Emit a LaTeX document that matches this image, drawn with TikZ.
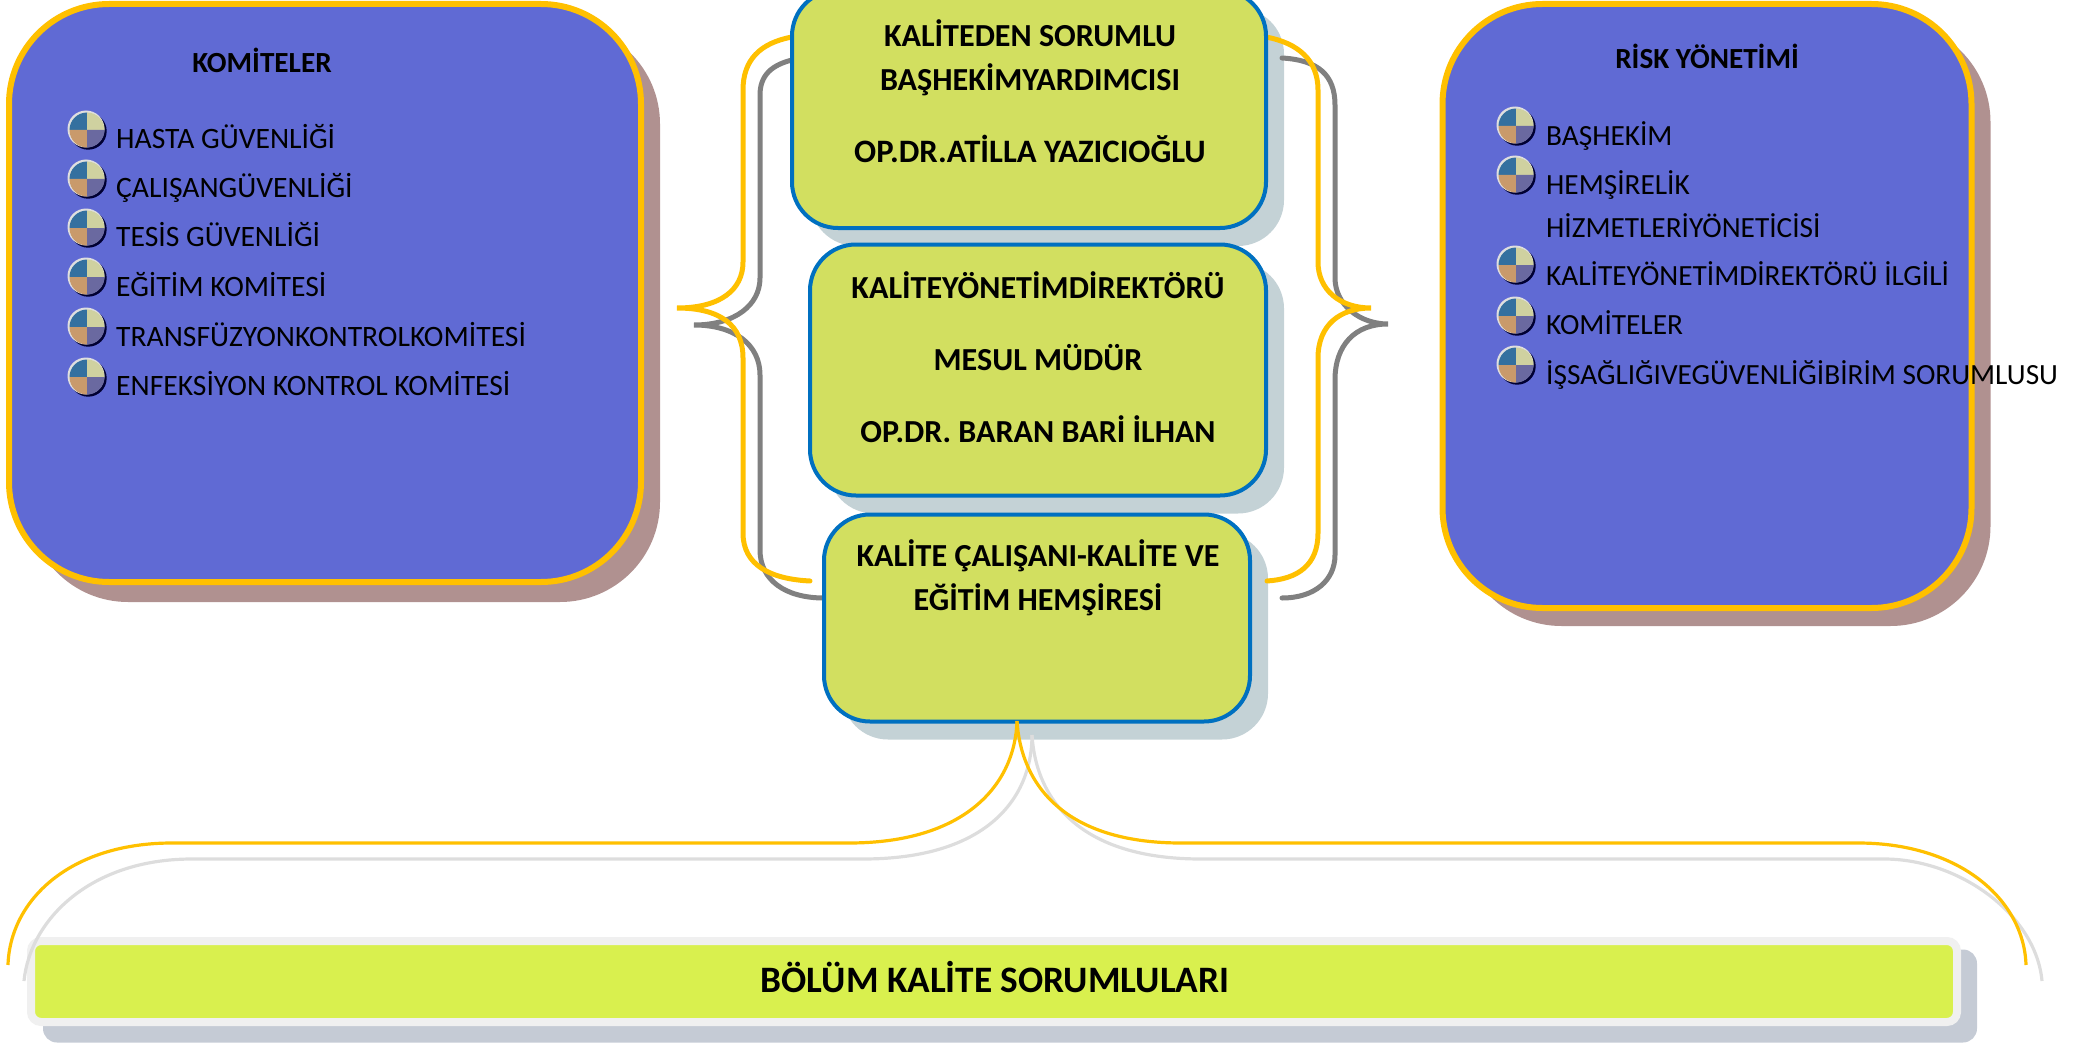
\documentclass[tikz,border=0pt]{standalone}
\usepackage{fontspec}
\setmainfont{Carlito}
\definecolor{panelblue}{HTML}{606AD4}
\definecolor{gold}{HTML}{FFC000}
\definecolor{panelshade}{HTML}{B09190}
\definecolor{leaf}{HTML}{D2DF60}
\definecolor{edgeblue}{HTML}{0070C0}
\definecolor{leafshade}{HTML}{C4D2D6}
\definecolor{barfill}{HTML}{D9F04E}
\definecolor{barrim}{HTML}{F0F0F0}
\definecolor{barshade}{HTML}{C5CBD5}
\definecolor{bracegray}{HTML}{808080}
\definecolor{lightgray2}{HTML}{DDDDDD}
\definecolor{HB1}{HTML}{34709F}
\definecolor{HB2}{HTML}{CFD1A0}
\definecolor{HB3}{HTML}{C99A6B}
\definecolor{HB4}{HTML}{6A69A0}
\tikzset{
  x=1pt,y=-1pt,
  panel/.style={draw=gold,line width=6pt,fill=panelblue,rounded corners=100pt,inner sep=0pt},
  panelback/.style={fill=panelshade,rounded corners=100pt,inner sep=0pt},
  leafbox/.style={draw=edgeblue,line width=4pt,fill=leaf,rounded corners=46pt,inner sep=0pt},
  leafback/.style={fill=leafshade,rounded corners=46pt,inner sep=0pt},
  barbox/.style={draw=barrim,line width=8pt,fill=barfill,rounded corners=10pt,inner sep=0pt},
  barback/.style={fill=barshade,rounded corners=14pt,inner sep=0pt},
  item/.style={anchor=base west,inner sep=0pt,font=\fontsize{29.6}{29.6}\selectfont},
  ritem/.style={anchor=base west,inner sep=0pt,font=\fontsize{29.3}{29.3}\selectfont},
  heading/.style={anchor=base,inner sep=0pt,font=\fontsize{29.2}{29.2}\selectfont\bfseries},
  leaftext/.style={anchor=base,inner sep=0pt,font=\fontsize{32.1}{32.1}\selectfont\bfseries},
  brace gold/.style={draw=gold,line width=5pt,line cap=round},
  brace gray/.style={draw=bracegray,line width=5pt,line cap=round},
  thin gold/.style={draw=gold,line width=3.2pt},
  thin gray/.style={draw=lightgray2,line width=3.2pt},
  qbullet/.pic={
    \fill[black!80!blue] (1.2,1.2) circle[radius=18.5];
    \fill[white!75!gray] (-1,-1) circle[radius=18.5];
    \fill[HB1] (0,0) -- (-17.5,0) arc[start angle=180,end angle=270,radius=17.5] -- cycle;
    \fill[HB2] (0,0) -- (0,-17.5) arc[start angle=270,end angle=360,radius=17.5] -- cycle;
    \fill[HB3] (0,0) -- (-17.5,0) arc[start angle=180,end angle=90,radius=17.5] -- cycle;
    \fill[HB4] (0,0) -- (0,17.5) arc[start angle=90,end angle=0,radius=17.5] -- cycle;
  }
}
\begin{document}
\begin{tikzpicture}
\useasboundingbox (0,0) rectangle (2081,1046);
\clip (0,0) rectangle (2081,1046);

% named brace ends and tips
\coordinate (gl tip) at (677,308);
\coordinate (gr tip) at (1371,308);
\coordinate (dl tip) at (694,325);
\coordinate (dr tip) at (1388,324);
\coordinate (dr top) at (1282,58);
\coordinate (dr bot) at (1282,598);
\coordinate (gl bot) at (810,581);
\coordinate (gr bot) at (1267,581);
\coordinate (apex gold) at (1017,721);
\coordinate (apex gray) at (1032,735);
\coordinate (foot gl) at (8,965);
\coordinate (foot gr) at (2026,965);
\coordinate (foot dl) at (24,981);
\coordinate (foot dr) at (2042,981);

% panels
\node[panelback,minimum width=632,minimum height=578] (komback) at (344,313) {};
\node[panel,minimum width=632,minimum height=578] (kom) at (325,293) {};
\node[panelback,minimum width=529,minimum height=604] (riskback) at (1726,324) {};
\node[panel,minimum width=529,minimum height=604] (risk) at (1707,306) {};

% centre shadows
\node[leafback,minimum width=474,minimum height=238] (aback) at (1047,127) {};
\node[leafback,minimum width=456,minimum height=251] (bback) at (1056,388) {};
\node[leafback,minimum width=426,minimum height=207] (cback) at (1055,636) {};

% gray braces (behind the boxes)
\draw[brace gray] (792,60) .. controls (772,65) and (760,75) .. (760,95)
  -- (760,278) .. controls (760,305) and (735,325) .. (dl tip)
  .. controls (735,325) and (760,345) .. (760,375)
  -- (760,550) .. controls (760,580) and (785,598) .. (824,598);
\draw[brace gray] (dr top) .. controls (1318,60) and (1335,75) .. (1335,105)
  -- (1335,278) .. controls (1335,305) and (1360,324) .. (dr tip)
  .. controls (1355,324) and (1335,345) .. (1335,380)
  -- (1335,555) .. controls (1335,580) and (1315,598) .. (dr bot);
% gold braces
\draw[brace gold] (792,37) .. controls (760,43) and (743,60) .. (743,90)
  -- (743,262) .. controls (743,290) and (720,308) .. (gl tip)
  .. controls (720,308) and (743,325) .. (743,358)
  -- (743,533) .. controls (743,565) and (770,579) .. (gl bot);
\draw[brace gold] (1266,37) .. controls (1298,43) and (1318,60) .. (1318,90)
  -- (1318,262) .. controls (1318,290) and (1340,308) .. (gr tip)
  .. controls (1340,308) and (1318,325) .. (1318,358)
  -- (1318,533) .. controls (1318,565) and (1298,579) .. (gr bot);

% centre boxes
\node[leafbox,minimum width=474,minimum height=238] (a) at (1029,109) {};
\node[leafbox,minimum width=456,minimum height=251] (b) at (1038,370) {};
\node[leafbox,minimum width=426,minimum height=207] (c) at (1037,618) {};

% bottom bar
\node[barback,minimum width=1934,minimum height=93] (barb) at (1010,996) {};
\node[barbox,minimum width=1926,minimum height=81] (bar) at (994,981.5) {};

% lower brace
\draw[thin gray] (apex gray) .. controls (1032,800) and (985,859) .. (863,859)
  -- (192,859) .. controls (90,859) and (30,920) .. (foot dl);
\draw[thin gray] (apex gray) .. controls (1036,800) and (1080,859) .. (1201,859)
  -- (1884,859) .. controls (1960,859) and (2036,915) .. (foot dr);
\draw[thin gold] (apex gold) .. controls (1015,785) and (965,843) .. (849,843)
  -- (172,843) .. controls (70,843) and (10,900) .. (foot gl);
\draw[thin gold] (apex gold) .. controls (1021,785) and (1065,843) .. (1181,843)
  -- (1858,843) .. controls (1960,843) and (2024,900) .. (foot gr);

% left panel text
\node[heading] (komt) at (262,72.5) {KOMİTELER};
\foreach \yb in {130,179,228,277,327,377}
  \pic at (87,\yb) {qbullet};
\node[item] (k1) at (116,148.5) {HASTA GÜVENLİĞİ};
\node[item] (k2) at (116,197.5) {ÇALIŞANGÜVENLİĞİ};
\node[item] (k3) at (116,246.5) {TESİS GÜVENLİĞİ};
\node[item] (k4) at (116,296.5) {EĞİTİM KOMİTESİ};
\node[item] (k5) at (116,346) {TRANSFÜZYONKONTROLKOMİTESİ};
\node[item] (k6) at (116,395) {ENFEKSİYON KONTROL KOMİTESİ};

% right panel text
\node[heading] (riskt) at (1707,69) {RİSK YÖNETİMİ};
\foreach \yb in {126,175,265,316,365}
  \pic at (1516,\yb) {qbullet};
\node[ritem] (r1) at (1546,145.5) {BAŞHEKİM};
\node[ritem] (r2) at (1546,194) {HEMŞİRELİK};
\node[ritem] (r3) at (1546,237.5) {HİZMETLERİYÖNETİCİSİ};
\node[ritem] (r4) at (1546,285) {KALİTEYÖNETİMDİREKTÖRÜ İLGİLİ};
\node[ritem] (r5) at (1546,334) {KOMİTELER};
\node[ritem] (r6) at (1546,384) {İŞSAĞLIĞIVEGÜVENLİĞİBİRİM SORUMLUSU};

% centre text
\node[leaftext] (a1) at (1030,46.5) {KALİTEDEN SORUMLU};
\node[leaftext] (a2) at (1030,90.5) {BAŞHEKİMYARDIMCISI};
\node[leaftext,font=\fontsize{32.7}{32.7}\selectfont\bfseries] (a3) at (1030,162.5) {OP.DR.ATİLLA YAZICIOĞLU};
\node[leaftext] (b1) at (1038,298.5) {KALİTEYÖNETİMDİREKTÖRÜ};
\node[leaftext] (b2) at (1038,370.5) {MESUL MÜDÜR};
\node[leaftext] (b3) at (1038,442.5) {OP.DR. BARAN BARİ İLHAN};
\node[leaftext] (c1) at (1038,566) {KALİTE ÇALIŞANI-KALİTE VE};
\node[leaftext] (c2) at (1038,610) {EĞİTİM HEMŞİRESİ};
\node[anchor=base,inner sep=0pt,font=\fontsize{37.3}{37.3}\selectfont\bfseries] (bart) at (995,992.5) {BÖLÜM KALİTE SORUMLULARI};
\end{tikzpicture}
\end{document}
